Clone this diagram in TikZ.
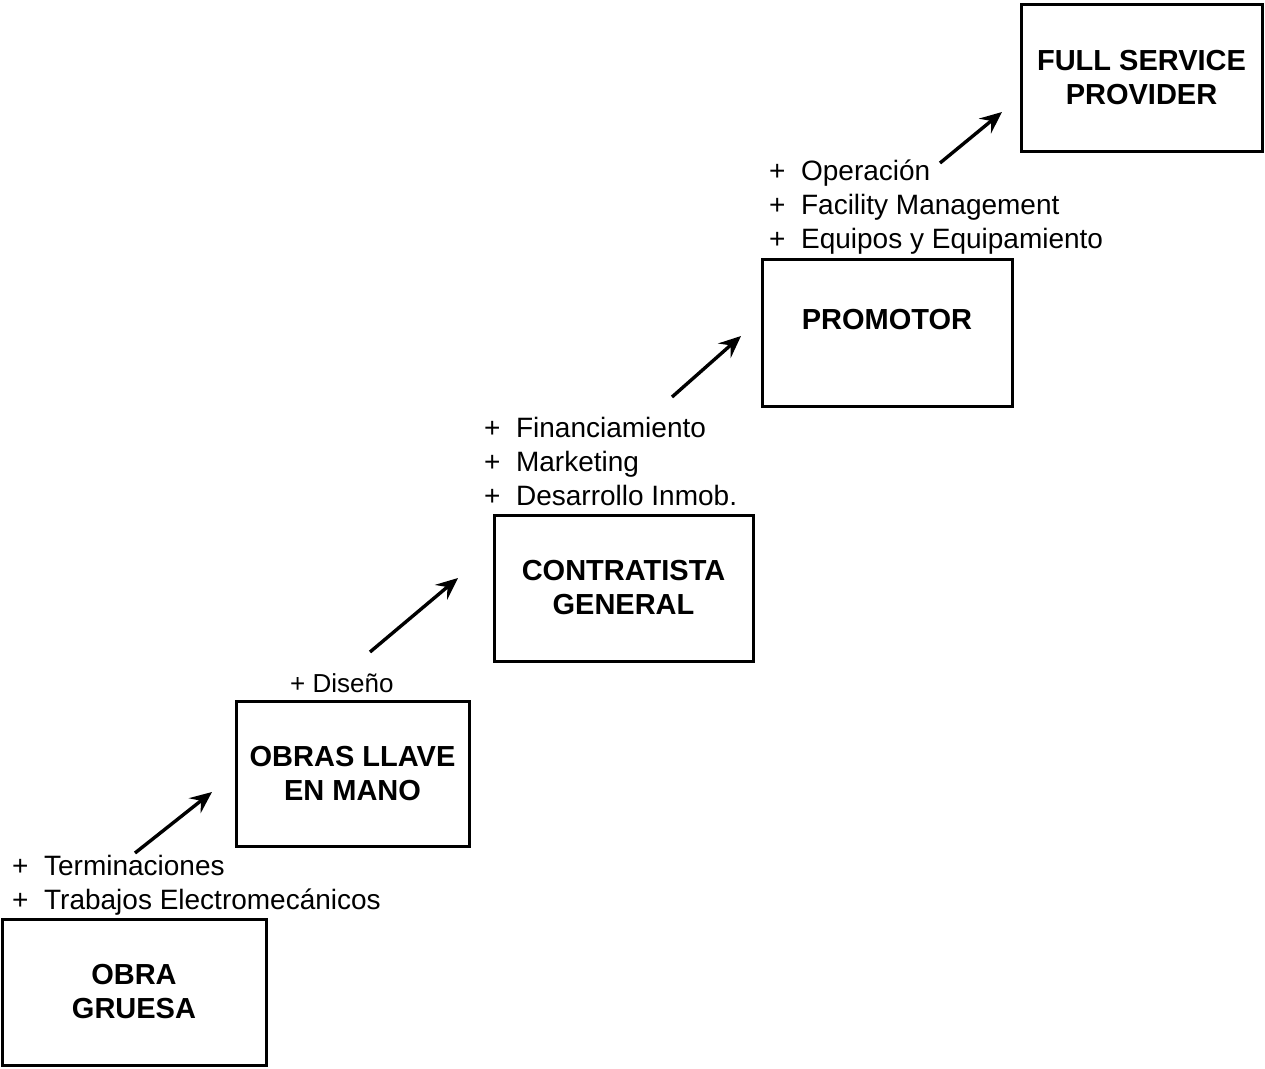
\documentclass[tikz,border=0pt]{standalone}
\usepackage{fontspec}
\setmainfont{Liberation Sans}
\usetikzlibrary{arrows.meta}

\begin{document}
\begin{tikzpicture}[
  x=1pt, y=-1pt,
  >={Stealth[length=22pt, width=19pt, inset=8pt]},
  stage/.style={draw, line width=3pt, inner sep=0pt, align=center,
    font=\fontsize{29}{34}\selectfont\bfseries},
  adds/.style={anchor=north west, inner sep=0pt, align=left,
    font=\fontsize{28}{34}\selectfont},
  climb/.style={->, line width=3.4pt},
]
  \useasboundingbox (0,0) rectangle (1265,1068);

  % ---------------- the five stages
  \node[stage, minimum width=264pt, minimum height=146pt] (gruesa) at (134,992) {OBRA\\GRUESA};
  \node[stage, minimum width=233pt, minimum height=145pt] (llave) at (352.5,773.5) {OBRAS LLAVE\\EN MANO};
  \node[stage, minimum width=259pt, minimum height=146pt] (contrat) at (623.5,588) {CONTRATISTA\\GENERAL};
  \node[stage, minimum width=250pt, minimum height=147pt, text height=21pt, text depth=27pt] (promotor) at (887,332.5) {PROMOTOR};
  \node[stage, minimum width=241pt, minimum height=147pt] (fsp) at (1141.5,77.5) {FULL SERVICE\\PROVIDER};

  % ---------------- what each step adds
  \node[adds] (add1) at (12,855) {+\ \ Terminaciones\\+\ \ Trabajos Electromecánicos};
  \node[adds, font=\fontsize{26}{30}\selectfont] (add2) at (290,673) {+ Diseño};
  \node[adds] (add3) at (484,417) {+\ \ Financiamiento\\+\ \ Marketing\\+\ \ Desarrollo Inmob.};
  \node[adds] (add4) at (769,160) {+\ \ Operación\\+\ \ Facility Management\\+\ \ Equipos y Equipamiento};

  % ---------------- arrows up the ladder
  \coordinate (s1) at (135,853);  \coordinate (e1) at (212,792);
  \coordinate (s2) at (370,652);  \coordinate (e2) at (458,578);
  \coordinate (s3) at (672,397);  \coordinate (e3) at (741,336);
  \coordinate (s4) at (940,163);  \coordinate (e4) at (1002,112);
  \foreach \i in {1,...,4} \draw[climb] (s\i) -- (e\i);
\end{tikzpicture}
\end{document}
